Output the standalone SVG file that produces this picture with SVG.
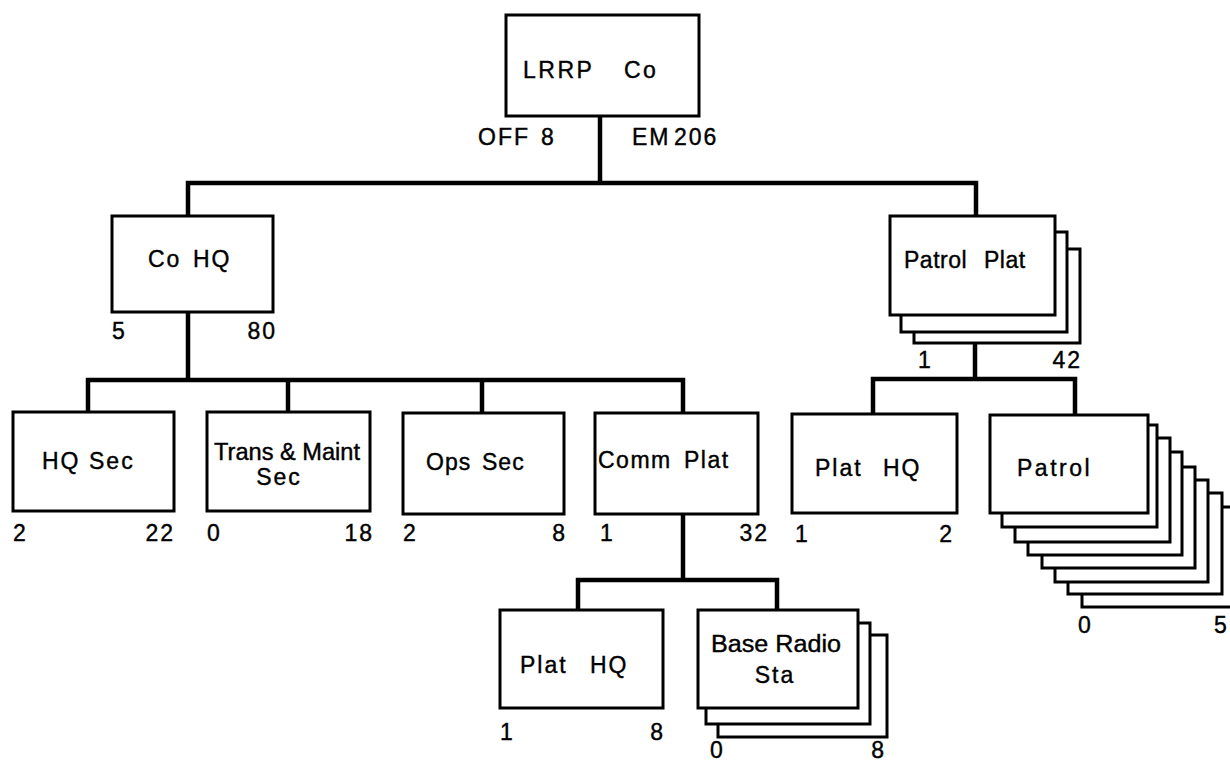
<svg xmlns="http://www.w3.org/2000/svg" width="1230" height="763" viewBox="0 0 1230 763">
<style>
.bg{fill:#fff}
.box{fill:#fff;stroke:#000;stroke-width:3}
.con{fill:none;stroke:#000;stroke-width:4.5;stroke-linejoin:miter}
.t{font-family:"Liberation Sans",Arial,sans-serif;font-size:23px;fill:#000;stroke:#000;stroke-width:0.4;letter-spacing:2px}
.n{font-family:"Liberation Sans",Arial,sans-serif;font-size:23px;fill:#000;stroke:#000;stroke-width:0.4;letter-spacing:2px}
.e{text-anchor:end}
.m{text-anchor:middle}
</style>
<rect class="bg" x="0" y="0" width="1230" height="763"/>
<g id="connectors">
<path class="con" d="M600,116 V183"/>
<path class="con" d="M188,216 V183 H976 V216"/>
<path class="con" d="M188,312 V380"/>
<path class="con" d="M88,412 V380 H683 V413"/>
<path class="con" d="M288,380 V412"/>
<path class="con" d="M482,380 V413"/>
<path class="con" d="M683,514 V580"/>
<path class="con" d="M578,610 V580 H777 V610"/>
<path class="con" d="M975,343 V379"/>
<path class="con" d="M873,414 V379 H1075 V415"/>
</g>
<g id="lrrp-co">
<rect class="box" x="506" y="15" width="193" height="101"/>
<text class="t" y="78" style="letter-spacing:2.5px"><tspan x="523">LRRP</tspan><tspan x="624">Co</tspan></text>
<text class="n" y="145"><tspan x="478">OFF</tspan><tspan x="541">8</tspan></text>
<text class="n" y="145"><tspan x="632">EM</tspan><tspan x="674">206</tspan></text>
</g>
<g id="co-hq">
<rect class="box" x="112" y="216" width="161" height="96"/>
<text class="t" y="267"><tspan x="148">Co</tspan><tspan x="193">HQ</tspan></text>
<text class="n" x="112" y="339">5</text>
<text class="n e" x="277" y="339">80</text>
</g>
<g id="hq-sec">
<rect class="box" x="13" y="412" width="161" height="99"/>
<text class="t" y="469"><tspan x="42">HQ</tspan><tspan x="89">Sec</tspan></text>
<text class="n" x="13" y="541">2</text>
<text class="n e" x="175" y="541">22</text>
</g>
<g id="trans-maint-sec">
<rect class="box" x="207" y="412" width="163" height="99"/>
<text class="t" x="214" y="460" textLength="146" lengthAdjust="spacingAndGlyphs" style="letter-spacing:0">Trans &amp; Maint</text>
<text class="t m" x="279" y="485">Sec</text>
<text class="n" x="207" y="541">0</text>
<text class="n e" x="374" y="541">18</text>
</g>
<g id="ops-sec">
<rect class="box" x="403" y="413" width="161" height="101"/>
<text class="t" y="470" style="letter-spacing:1px"><tspan x="426">Ops</tspan><tspan x="482">Sec</tspan></text>
<text class="n" x="403" y="541">2</text>
<text class="n e" x="567" y="541">8</text>
</g>
<g id="comm-plat">
<rect class="box" x="595" y="413" width="163" height="101"/>
<text class="t" y="468" style="letter-spacing:1.5px"><tspan x="598">Comm</tspan><tspan x="684">Plat</tspan></text>
<text class="n" x="600" y="541">1</text>
<text class="n e" x="769" y="541">32</text>
</g>
<g id="patrol-plat">
<rect class="box" x="914" y="249" width="166" height="94"/>
<rect class="box" x="901" y="232" width="166" height="100"/>
<rect class="box" x="890" y="216" width="165" height="99"/>
<text class="t" y="268" style="letter-spacing:0.5px"><tspan x="904">Patrol</tspan><tspan x="984">Plat</tspan></text>
<text class="n" x="918" y="368">1</text>
<text class="n e" x="1082" y="368">42</text>
</g>
<g id="plat-hq-patrol">
<rect class="box" x="792" y="414" width="165" height="99"/>
<text class="t" y="476"><tspan x="815">Plat</tspan><tspan x="883">HQ</tspan></text>
<text class="n" x="795" y="542">1</text>
<text class="n e" x="954" y="542">2</text>
</g>
<g id="patrol">
<rect class="box" x="1082" y="507" width="156" height="100"/>
<rect class="box" x="1068" y="493" width="154" height="101"/>
<rect class="box" x="1055" y="480" width="153" height="102"/>
<rect class="box" x="1042" y="467" width="153" height="101"/>
<rect class="box" x="1028" y="452" width="154" height="103"/>
<rect class="box" x="1015" y="438" width="155" height="104"/>
<rect class="box" x="1002" y="425" width="155" height="102"/>
<rect class="box" x="990" y="415" width="158" height="98"/>
<text class="t" x="1017" y="476" style="letter-spacing:2.5px">Patrol</text>
<text class="n" x="1078" y="633">0</text>
<text class="n" x="1214" y="633">5</text>
</g>
<g id="plat-hq-comm">
<rect class="box" x="500" y="610" width="163" height="98"/>
<text class="t" y="673"><tspan x="520">Plat</tspan><tspan x="590">HQ</tspan></text>
<text class="n" x="500" y="740">1</text>
<text class="n e" x="665" y="740">8</text>
</g>
<g id="base-radio-sta">
<rect class="box" x="718" y="635" width="169" height="102"/>
<rect class="box" x="706" y="623" width="164" height="101"/>
<rect class="box" x="698" y="610" width="160" height="98"/>
<text class="t" x="711" y="652" textLength="130" lengthAdjust="spacingAndGlyphs" style="letter-spacing:0">Base Radio</text>
<text class="t m" x="775" y="683">Sta</text>
<text class="n" x="710" y="758">0</text>
<text class="n e" x="886" y="758">8</text>
</g>
</svg>
